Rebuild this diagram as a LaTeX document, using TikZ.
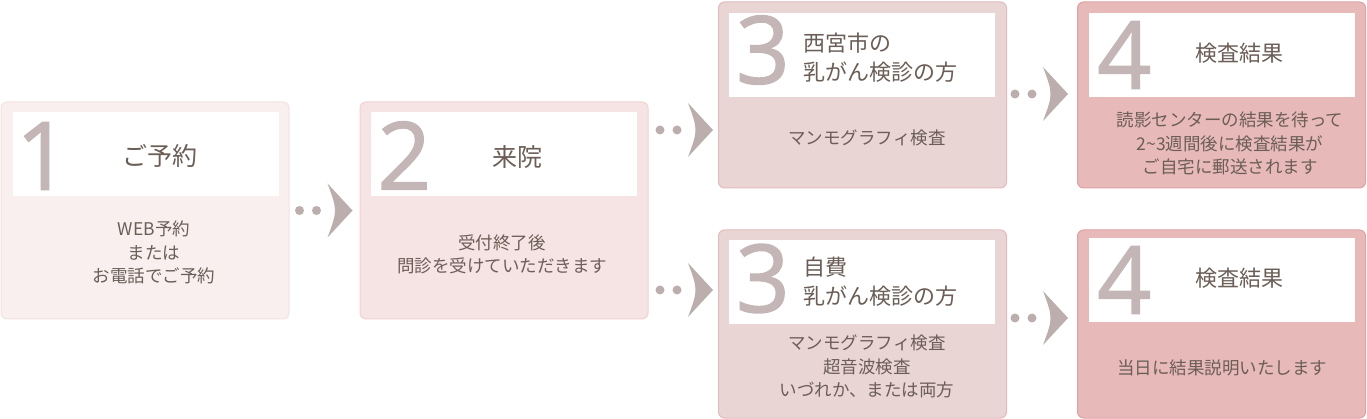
\documentclass[tikz,border=0pt]{standalone}
\usepackage{fontspec}
\setmainfont{Noto Sans CJK JP}
\newfontfamily\numfont{Open Sans}[FakeBold=1.5]
\usepackage{xcolor}
\usetikzlibrary{calc}

\definecolor{textcol}{HTML}{6B5E57}
\definecolor{numcol}{HTML}{C4B6B6}
\definecolor{arrowcol}{HTML}{BCAEAC}
\definecolor{fillA}{HTML}{F9EFEF}
\definecolor{lineA}{HTML}{F3E2E2}
\definecolor{fillB}{HTML}{F6E3E3}
\definecolor{lineB}{HTML}{EFD2D2}
\definecolor{fillC}{HTML}{EAD5D5}
\definecolor{lineC}{HTML}{E2BCBC}
\definecolor{fillD}{HTML}{E8B9B9}
\definecolor{lineD}{HTML}{DCA3A3}

\begin{document}
\begin{tikzpicture}[x=1pt, y=-1pt,
    stepcard/.style={draw, rounded corners=6pt, line width=1pt, minimum width=288pt, inner sep=0pt},
    header/.style={fill=white, minimum width=266pt, minimum height=84pt, inner sep=0pt},
    num/.style={font=\numfont\fontsize{94}{94}\selectfont, text=numcol, inner sep=0pt},
    title/.style={font=\fontsize{22}{28.5}\selectfont, text=textcol, align=center, inner sep=0pt},
    bigtitle/.style={title, font=\fontsize{25}{30}\selectfont},
    body/.style={font=\fontsize{17.5}{23.5}\selectfont, text=textcol, align=center, inner sep=0pt},
    flow/.pic={
        \fill[arrowcol] (-53,0) circle (4.5pt) (-36,0) circle (4.5pt);
        \fill[arrowcol] (-25,-27) -- (0,0) -- (-25,27) .. controls (-15,0) .. (-25,-27) -- cycle;
    }
]
    \useasboundingbox (0,0) rectangle (1367,419);

    % Step 1
    \node[stepcard, fill=fillA, draw=lineA, minimum height=217pt] (b1) at (145,210.5) {};
    \node[header] (h1) at (146,154) {};
    \node[num] (n1) at ($(h1.west)+(30,2)$) {1};
    \node[bigtitle] (t1) at (160,156) {ご予約};
    \node[body] (d1) at (154,252.5) {WEB予約\\または\\お電話でご予約};

    % Step 2
    \node[stepcard, fill=fillB, draw=lineB, minimum height=217pt] (b2) at (504,210.5) {};
    \node[header] (h2) at (503.5,154.5) {};
    \node[num] (n2) at ($(h2.west)+(34,1)$) {2};
    \node[bigtitle] (t2) at (517,157) {来院};
    \node[body] (d2) at (502,254.5) {受付終了後\\問診を受けていただきます};

    % Step 3 (city screening)
    \node[stepcard, fill=fillC, draw=lineC, minimum height=186pt] (b3a) at (862.5,95) {};
    \node[header] (h3a) at (861.5,55) {};
    \node[num] (n3a) at ($(h3a.west)+(34.5,-5)$) {3};
    \node[title, align=left, anchor=west] (t3a) at (803,57.5) {西宮市の\\乳がん検診の方};
    \node[body] (d3a) at (867,138) {マンモグラフィ検査};

    % Step 4 (city screening)
    \node[stepcard, fill=fillD, draw=lineD, minimum height=186pt] (b4a) at (1221.5,95) {};
    \node[header] (h4a) at (1221.5,55) {};
    \node[num] (n4a) at ($(h4a.west)+(36,0)$) {4};
    \node[title] (t4a) at (1239,53) {検査結果};
    \node[body] (d4a) at (1230,143.5) {読影センターの結果を待って\\2\textasciitilde3週間後に検査結果が\\ご自宅に郵送されます};

    % Step 3 (self-paid)
    \node[stepcard, fill=fillC, draw=lineC, minimum height=188pt] (b3b) at (862.5,324) {};
    \node[header] (h3b) at (861.5,282.5) {};
    \node[num] (n3b) at ($(h3b.west)+(34.5,-4)$) {3};
    \node[title, align=left, anchor=west] (t3b) at (803,281.5) {自費\\乳がん検診の方};
    \node[body] (d3b) at (867,366.5) {マンモグラフィ検査\\超音波検査\\いづれか、または両方};

    % Step 4 (self-paid)
    \node[stepcard, fill=fillD, draw=lineD, minimum height=188pt] (b4b) at (1221.5,324) {};
    \node[header] (h4b) at (1221.5,280) {};
    \node[num] (n4b) at ($(h4b.west)+(36,0)$) {4};
    \node[title] (t4b) at (1239,278) {検査結果};
    \node[body] (d4b) at (1222,368) {当日に結果説明いたします};

    % Connectors
    \pic at ($(b2.west)+(-7,0)$) {flow};
    \pic at ($(b3a.west)+(-5,35)$) {flow};
    \pic at ($(b3b.west)+(-5,-34)$) {flow};
    \pic at ($(b4a.west)+(-9,-1)$) {flow};
    \pic at ($(b4b.west)+(-9,-6)$) {flow};
\end{tikzpicture}
\end{document}
